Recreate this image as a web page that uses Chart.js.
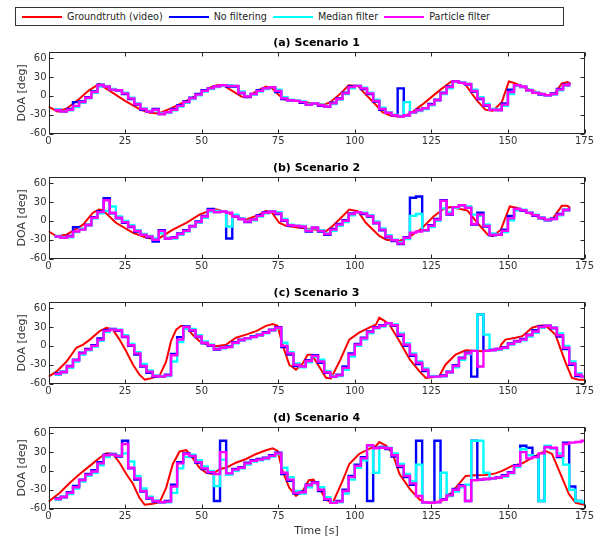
<!DOCTYPE html>
<html>
<head>
<meta charset="utf-8">
<script src="https://cdn.jsdelivr.net/npm/chart.js@4.4.1/dist/chart.umd.min.js"></script>
<style>
  body { margin: 0; width: 605px; height: 539px; background: #fff; position: relative; overflow: hidden; font-family: "DejaVu Sans", sans-serif; }
  canvas { position: absolute; left: 0; }
  #legend { position: absolute; left: 15px; top: 7px; width: 541px; height: 17px; padding: 0 0 0 6px; border: 1px solid #333; display: flex; align-items: center; font-size: 9.6px; color: #262626; white-space: nowrap; }
  #legend .item { display: flex; align-items: center; margin-right: 6px; }
  #legend .swatch { width: 40px; height: 2px; margin-right: 5px; }
</style>
</head>
<body>
<div id="legend"></div>
<canvas id="panelA" width="605" height="120" style="top:30px"></canvas>
<canvas id="panelB" width="605" height="120" style="top:155px"></canvas>
<canvas id="panelC" width="605" height="120" style="top:280px"></canvas>
<canvas id="panelD" width="605" height="134" style="top:405px"></canvas>
<script>
var seriesNames = ["Groundtruth (video)", "No filtering", "Median filter", "Particle filter"];
var seriesColors = ["#ff0000", "#0000ff", "#00ffff", "#ff00ff"];
var panelTitles = ["(a) Scenario 1", "(b) Scenario 2", "(c) Scenario 3", "(d) Scenario 4"];
var xTicks = [0, 25, 50, 75, 100, 125, 150, 175];
var yTicks = [-60, -30, 0, 30, 60];

// estimates are sampled every 2 s (stairs)
function grid(start, end, step) {
  var t = [];
  for (var v = start; v <= end; v += step) { t.push(v); }
  return t;
}
var timeAB = grid(0, 170, 2);
var timeCD = grid(0, 174, 2).concat([175]);

// (a) Scenario 1
var gtT_a = [0, 3, 6, 10, 13, 16.5, 20, 25, 30, 33, 36, 40, 45, 50, 53, 55, 57, 60, 63, 65, 68, 71, 73, 75, 77, 80, 85, 90, 92, 95, 98, 101, 104, 107, 109, 112, 116, 119, 122, 125, 128, 131.5, 134, 136, 138.3, 140, 142.6, 145, 148, 150.3, 152.5, 156, 160, 163, 165, 167.6, 169.5, 170.5];
var gtY_a = [-17, -25, -20, -5, 8, 19, 8, -8, -22, -27, -28, -20, -8, 5, 14, 17, 17, 8, -1, -2, 8, 15, 12, 2, -6, -7, -11, -14, -10, 2, 17, 16, 0, -15, -26, -32, -33, -25, -14, -2, 10, 23, 22, 19, 3, -8, -22, -24, -10, 23, 20, 12, 5, 1, 2, 20, 22, 19];
var noFilt_a = [null, -22, -25, -21, -10, -9, -2, 7, 18, 15,
  10, 8, 3, -5, -14, -22, -25, -21, -29, -27,
  -21, -15, -9, -3, 3, 9, 12, 15, 17, 15,
  15, 4, -2, 3, 9, 12, 14, 6, -5, -7,
  -8, -11, -14, -12, -16, -17, -11, -4, 5, 15,
  16, 11, 3, -9, -22, -27, -31, 12, -31, -26,
  -22, -20, -13, -6, 5, 15, 23, 21, 18, 7,
  -5, -16, -22, -22, -12, 10, 17, 14, 9, 5,
  2, 1, 4, 11, 18, 21];
var median_a = [null, -22, -25, -23, -18, -11, -4, 5, 15, 16,
  11, 9, 5, -3, -12, -20, -24, -23, -28, -27,
  -23, -17, -11, -5, 1, 7, 11, 14, 16, 17,
  16, 7, 0, 2, 7, 11, 14, 10, -2, -6,
  -8, -9, -13, -12, -14, -16, -13, -6, 3, 12,
  16, 13, 5, -6, -19, -26, -30, -32, -10, -27,
  -24, -21, -15, -8, 3, 12, 22, 22, 19, 10,
  -2, -13, -21, -23, -16, 3, 16, 15, 10, 6,
  3, 1, 2, 9, 16, 20];
var particle_a = [null, -23, -25, -22, -16, -10, -3, 6, 17, 15,
  10, 9, 4, -4, -13, -21, -25, -22, -29, -26,
  -22, -16, -10, -4, 2, 8, 12, 15, 17, 16,
  16, 5, -1, 3, 8, 12, 14, 8, -4, -7,
  -8, -10, -14, -12, -15, -17, -12, -5, 4, 14,
  16, 12, 4, -8, -21, -27, -31, -33, -31, -26,
  -23, -20, -14, -7, 4, 14, 23, 21, 19, 8,
  -4, -15, -22, -23, -14, 6, 17, 15, 9, 5,
  3, 1, 3, 10, 17, 21];

// (b) Scenario 2
var gtT_b = [0, 2.6, 5.9, 11.3, 14.5, 16.5, 17.8, 22, 27.6, 32, 34.5, 36, 40.6, 45, 49.3, 53.6, 55, 58, 62.3, 64.5, 68.8, 71, 73, 75.3, 77.5, 82, 87.3, 90.6, 92.7, 98.2, 101, 103.6, 108, 110.3, 114.6, 118, 121.4, 125.8, 129, 131.2, 134.5, 136.8, 140, 143.4, 145, 147.7, 150.6, 152.8, 158, 162.2, 164.4, 167.6, 169.3, 170.3];
var gtY_b = [-16.5, -24.5, -22, -6, 13, 18, 17, -3, -19, -27, -29, -28, -14, -3, 10, 18, 18, 14, 5, 2, 10, 16, 13, -3, -8, -11, -14, -16.5, -8.5, 18, 15.5, -3, -24, -30, -32, -24.5, -14, 7.5, 19, 22, 19, 16.5, -3, -22, -24.5, -14, 23, 21, 10, 2, 2, 24, 24, 21];
var noFilt_b = [null, -25, -27, -24, -10, -13, -6, 6, 15, 36,
  12, 4, -3, -10, -17, -22, -26, -33, -15, -28,
  -26, -20, -15, -8, -1, 8, 19, 14, 15, -28,
  7, 3, -2, 2, 9, 14, 15, 11, 0, -8,
  -8, -10, -17, -11, -17, -22, -13, -5, 1, 12,
  14, 11, 7, -4, -15, -26, -32, -37, -26, 37,
  39, -15, -7, 3, 33, 10, 22, 25, 21, -6,
  13, -9, -23, -22, -14, 8, 19, 16, 13, 8,
  4, 1, 4, 11, 18, 21];
var median_b = [null, -24, -26, -26, -18, -13, -8, 4, 12, 16,
  23, 7, 0, -7, -15, -21, -24, -28, -20, -27,
  -28, -22, -17, -10, -3, 5, 15, 16, 15, -9,
  10, 4, 0, 1, 7, 12, 15, 14, 3, -6,
  -8, -8, -14, -12, -15, -20, -16, -8, -2, 9,
  14, 13, 9, -1, -12, -23, -30, -34, -29, 8,
  11, -16, -10, 0, 20, 14, 21, 25, 23, 10,
  8, -6, -20, -22, -18, 1, 17, 18, 14, 10,
  6, 2, 3, 9, 16, 20];
var particle_b = [null, -25, -27, -25, -17, -14, -7, 5, 14, 33,
  13, 5, -2, -9, -16, -22, -25, -30, -16, -28,
  -27, -21, -16, -9, -2, 7, 17, 14, 15, 13,
  7, 3, -1, 2, 8, 13, 15, 12, 1, -7,
  -8, -9, -16, -11, -16, -21, -14, -6, 0, 11,
  14, 12, 8, -3, -14, -25, -31, -36, -27, -19,
  -17, -15, -8, 2, 32, 11, 22, 25, 21, -5,
  10, -8, -22, -22, -16, 4, 19, 17, 13, 9,
  5, 2, 3, 10, 17, 21];

// (c) Scenario 3
var gtT_c = [0, 2.6, 5.9, 9.1, 11.3, 13.5, 16.7, 18.9, 21, 23.2, 25.4, 27.6, 29.7, 31.4, 34, 36.3, 38.4, 40, 41.7, 43.3, 45, 47, 49.3, 51.5, 54.7, 58, 61.2, 64.5, 67.8, 71, 73.2, 74.8, 76.4, 78.6, 80.8, 83, 84.6, 86, 88, 90.6, 92.2, 95, 98.2, 101.4, 104.7, 106.9, 108, 109.7, 111.3, 114.6, 118, 121.2, 123.2, 127.5, 129.6, 132.9, 136.2, 141.6, 147.2, 147.8, 149.2, 152.5, 154.7, 157.9, 160.1, 162.2, 165.5, 168.7, 170.9, 173.1, 175];
var gtY_c = [-49, -41, -25, -3, 2, 10, 23.5, 29, 26, 10, -9, -30, -46, -54, -51, -47, -25, 7.5, 26, 32, 30, 18, 7.5, 3, -0.5, 2, 13, 18, 23.5, 32, 35, 32, 2, -30, -38, -28, -14, -14, -30, -51, -52, -25, 10, 21, 29, 34, 45, 40, 34, 7.5, -22, -41, -51, -49, -30, -14, -7, -8.5, -6, 2, 10, 13, 15.5, 29, 32, 33, 18, -25, -51, -54, -54];
var noFilt_c = [null, -44, -41, -32, -22, -11, -5, 1, 12, 25,
  27, 24, 14, 0, -14, -33, -43, -49, -49, -46,
  -13, 14, 31, 24, 14, 4, 0, -6, -3, -1,
  6, 10, 12, 15, 18, 22, 26, 30, -2, -14,
  -32, -33, -23, -15, -27, -43, -49, -46, -33, -12,
  3, 13, 23, 30, 33, 36, 32, 16, 0, -16,
  -29, -40, -49, -49, -47, -41, -31, -19, -11, -49,
  50, -8, -6, -5, -2, 4, 8, 11, 18, 25,
  31, 32, 28, 15, -5, -30, -48, -49,
  -49];
var median_c = [null, -46, -43, -35, -25, -14, -7, -1, 8, 22,
  26, 26, 17, 3, -10, -29, -39, -47, -49, -48,
  -25, 6, 27, 27, 17, 7, 2, -4, -4, -2,
  4, 8, 11, 14, 16, 20, 24, 28, 5, -10,
  -28, -34, -26, -17, -22, -40, -48, -48, -38, -17,
  0, 10, 20, 28, 31, 35, 34, 20, 4, -12,
  -25, -36, -48, -49, -49, -43, -34, -22, -13, -8,
  50, 18, -7, -6, -4, 2, 6, 9, 15, 21,
  29, 32, 30, 20, 0, -25, -44, -49,
  -49];
var particle_c = [null, -45, -42, -33, -23, -12, -6, 0, 10, 24,
  26, 25, 15, 1, -12, -32, -41, -48, -49, -47,
  -15, 10, 30, 25, 15, 5, 1, -5, -3, -2,
  5, 9, 12, 14, 17, 21, 25, 29, 0, -12,
  -30, -33, -24, -16, -25, -42, -49, -47, -35, -14,
  2, 12, 22, 29, 32, 36, 33, 18, 2, -14,
  -27, -38, -49, -49, -48, -42, -32, -20, -12, -8,
  -33, -8, -7, -5, -3, 3, 7, 10, 17, 23,
  30, 32, 29, 17, -3, -28, -46, -49,
  -49];

// (d) Scenario 4
var gtT_d = [0, 3.7, 7, 10.2, 13.5, 16.7, 18.9, 21, 23.2, 25.4, 27.6, 29.7, 31.4, 34, 36.3, 38.4, 40.6, 42.8, 45, 47, 49.3, 51.5, 53.6, 56, 58, 61.2, 64.5, 67.8, 71, 73.2, 74.8, 76.4, 78.6, 80.8, 83, 85, 86.5, 88, 90.6, 92.8, 96, 98.2, 101.4, 104.7, 106.9, 108, 110.3, 112.4, 114.6, 118, 121.2, 123.2, 126.5, 129.6, 132.9, 136.2, 139.4, 142.6, 145.9, 148.1, 151.4, 154.7, 158, 162.2, 164.4, 167.7, 169.9, 172.1, 175];
var gtY_d = [-49, -35, -19, -5, 8, 21, 28, 27, 13, -5, -21, -43, -54, -52.5, -50, -27, 11, 31, 33, 21, 5, -3, -5, 3, 5, 13, 19, 27, 33, 36, 32, 0, -27, -40, -32, -15, -14, -24, -46, -51, -16, 11, 27, 35, 40, 46, 40, 27, -5, -29, -46, -51, -50, -46, -27, -8, -7, -6.5, -4, 0, 8, 12, 21, 32, 27, -11, -37, -51, -54];
var noFilt_d = [null, -44, -41, -34, -24, -14, -5, 1, 14, 26,
  27, 23, 48, 4, -14, -33, -44, -49, -50, -48,
  -22, 14, 28, 23, 13, 3, -3, -48, 48, -5,
  3, 6, 13, 17, 19, 21, 25, 29, -5, -16,
  -36, -33, -22, -18, -32, -46, -51, -48, -30, -8,
  10, 22, -48, 37, 38, 35, 23, 6, -10, -22,
  48, -50, -51, 48, -45, -38, -29, -23, -48, 48,
  -14, -13, -12, -10, -7, -2, 9, 40, 37, 23,
  -48, 38, 36, 22, 45, -25, -48, -50,
  -50];
var median_d = [null, -46, -43, -37, -28, -17, -8, -3, 9, 22,
  26, 25, 28, 15, -8, -28, -41, -47, -50, -50,
  -35, 4, 22, 26, 17, 7, 0, -24, 18, -6,
  0, 4, 10, 15, 17, 19, 23, 27, 5, -10,
  -32, -36, -26, -20, -26, -42, -50, -50, -36, -14,
  5, 17, 40, -3, 37, 37, 28, 11, -5, -17,
  10, -50, -51, -50, -3, -40, -33, -26, -22, 48,
  48, -3, -12, -11, -9, -4, 6, 35, 25, 22,
  -48, 40, 36, 28, 10, -30, -48, -50,
  -50];
var particle_d = [null, -45, -42, -35, -26, -15, -6, -1, 12, 25,
  26, 24, 43, 5, -12, -32, -43, -48, -50, -49,
  -25, 12, 27, 24, 14, 4, -2, -5, 30, -4,
  2, 5, 12, 16, 18, 20, 24, 28, -3, -14,
  -35, -34, -23, -19, -30, -45, -51, -49, -32, -10,
  8, 20, 41, 36, 37, 36, 25, 8, -8, -20,
  -40, -50, -51, -50, -46, -39, -30, -24, -48, -15,
  -14, -13, -12, -11, -8, -3, 8, 30, 20, 22,
  28, 38, 37, 24, 43, 45, 46, 48,
  48];

function points(times, values) {
  return times.map(function (t, i) { return { x: t, y: values[i] }; });
}

// MATLAB-like box with inward tick marks on all four sides
var boxTicks = {
  id: "boxTicks",
  afterDatasetsDraw: function (chart) {
    var ctx = chart.ctx, area = chart.chartArea;
    var xs = chart.scales.x, ys = chart.scales.y;
    var l = Math.round(area.left) + 0.5, r = Math.round(area.right) - 0.5;
    var t = Math.round(area.top) + 0.5, b = Math.round(area.bottom) - 0.5;
    ctx.save();
    ctx.strokeStyle = "#262626";
    ctx.lineWidth = 1;
    ctx.strokeRect(l, t, r - l, b - t);
    ctx.beginPath();
    xTicks.forEach(function (v) {
      var px = Math.round(xs.getPixelForValue(v)) + 0.5;
      ctx.moveTo(px, b); ctx.lineTo(px, b - 4);
      ctx.moveTo(px, t); ctx.lineTo(px, t + 4);
    });
    yTicks.forEach(function (v) {
      var py = Math.round(ys.getPixelForValue(v)) + 0.5;
      ctx.moveTo(l, py); ctx.lineTo(l + 4, py);
      ctx.moveTo(r, py); ctx.lineTo(r - 4, py);
    });
    ctx.stroke();
    ctx.restore();
  }
};

Chart.defaults.font.family = "'DejaVu Sans', sans-serif";
Chart.defaults.color = "#262626";

var panel = function (canvasId, title, time, gtT, gtY, noFilt, median, particle, isLast) {
  // stairs: each value holds until the next sample
  var est = function (values, idx, order) {
    return { label: seriesNames[idx], data: points(time, values), borderColor: seriesColors[idx],
      borderWidth: 2.4, pointRadius: 0, stepped: "before", order: order, fill: false };
  };
  return new Chart(document.getElementById(canvasId), {
    type: "line",
    data: {
      datasets: [
        { label: seriesNames[0], data: points(gtT, gtY), borderColor: seriesColors[0],
          borderWidth: 2, pointRadius: 0, tension: 0, order: 3, fill: false },
        est(noFilt, 1, 2),
        est(median, 2, 1),
        est(particle, 3, 0)
      ]
    },
    options: {
      responsive: false,
      animation: false,
      events: [],
      layout: { padding: { left: 0, right: 20.5, top: 0, bottom: 0 } },
      plugins: {
        legend: { display: false },
        tooltip: { enabled: false },
        title: { display: true, text: title, color: "#000", fullSize: false,
          font: { size: 11, weight: "bold", lineHeight: 1.2 }, padding: { top: 7, bottom: 1.8 } }
      },
      scales: {
        x: {
          type: "linear", min: 0, max: 175,
          grid: { display: false, drawTicks: false },
          border: { display: false },
          ticks: { stepSize: 25, padding: 2.4, maxRotation: 0, autoSkip: false,
            font: { size: 10 }, color: "#333" },
          title: { display: isLast, text: "Time [s]", font: { size: 11 }, color: "#333",
            padding: { top: 0, bottom: 1.4 } },
          afterFit: function (scale) { scale.height = isLast ? 30.5 : 16.5; }
        },
        y: {
          min: -60, max: 70,
          grid: { display: false, drawTicks: false },
          border: { display: false },
          ticks: { stepSize: 30, includeBounds: false, padding: 2, font: { size: 10 }, color: "#333" },
          title: { display: true, text: "DOA [deg]", font: { size: 11 }, color: "#333",
            padding: { top: 15.4, bottom: 0 } },
          afterFit: function (scale) { scale.width = 48.5; }
        }
      }
    },
    plugins: [boxTicks]
  });
};

// shared legend box, built from the series names and colours
var legendBox = document.getElementById("legend");
seriesNames.forEach(function (name, i) {
  var item = document.createElement("div");
  item.className = "item";
  var swatch = document.createElement("span");
  swatch.className = "swatch";
  swatch.style.background = seriesColors[i];
  var label = document.createElement("span");
  label.textContent = name;
  item.appendChild(swatch);
  item.appendChild(label);
  legendBox.appendChild(item);
});

panel("panelA", panelTitles[0], timeAB, gtT_a, gtY_a, noFilt_a, median_a, particle_a, false);
panel("panelB", panelTitles[1], timeAB, gtT_b, gtY_b, noFilt_b, median_b, particle_b, false);
panel("panelC", panelTitles[2], timeCD, gtT_c, gtY_c, noFilt_c, median_c, particle_c, false);
panel("panelD", panelTitles[3], timeCD, gtT_d, gtY_d, noFilt_d, median_d, particle_d, true);
</script>
</body>
</html>
